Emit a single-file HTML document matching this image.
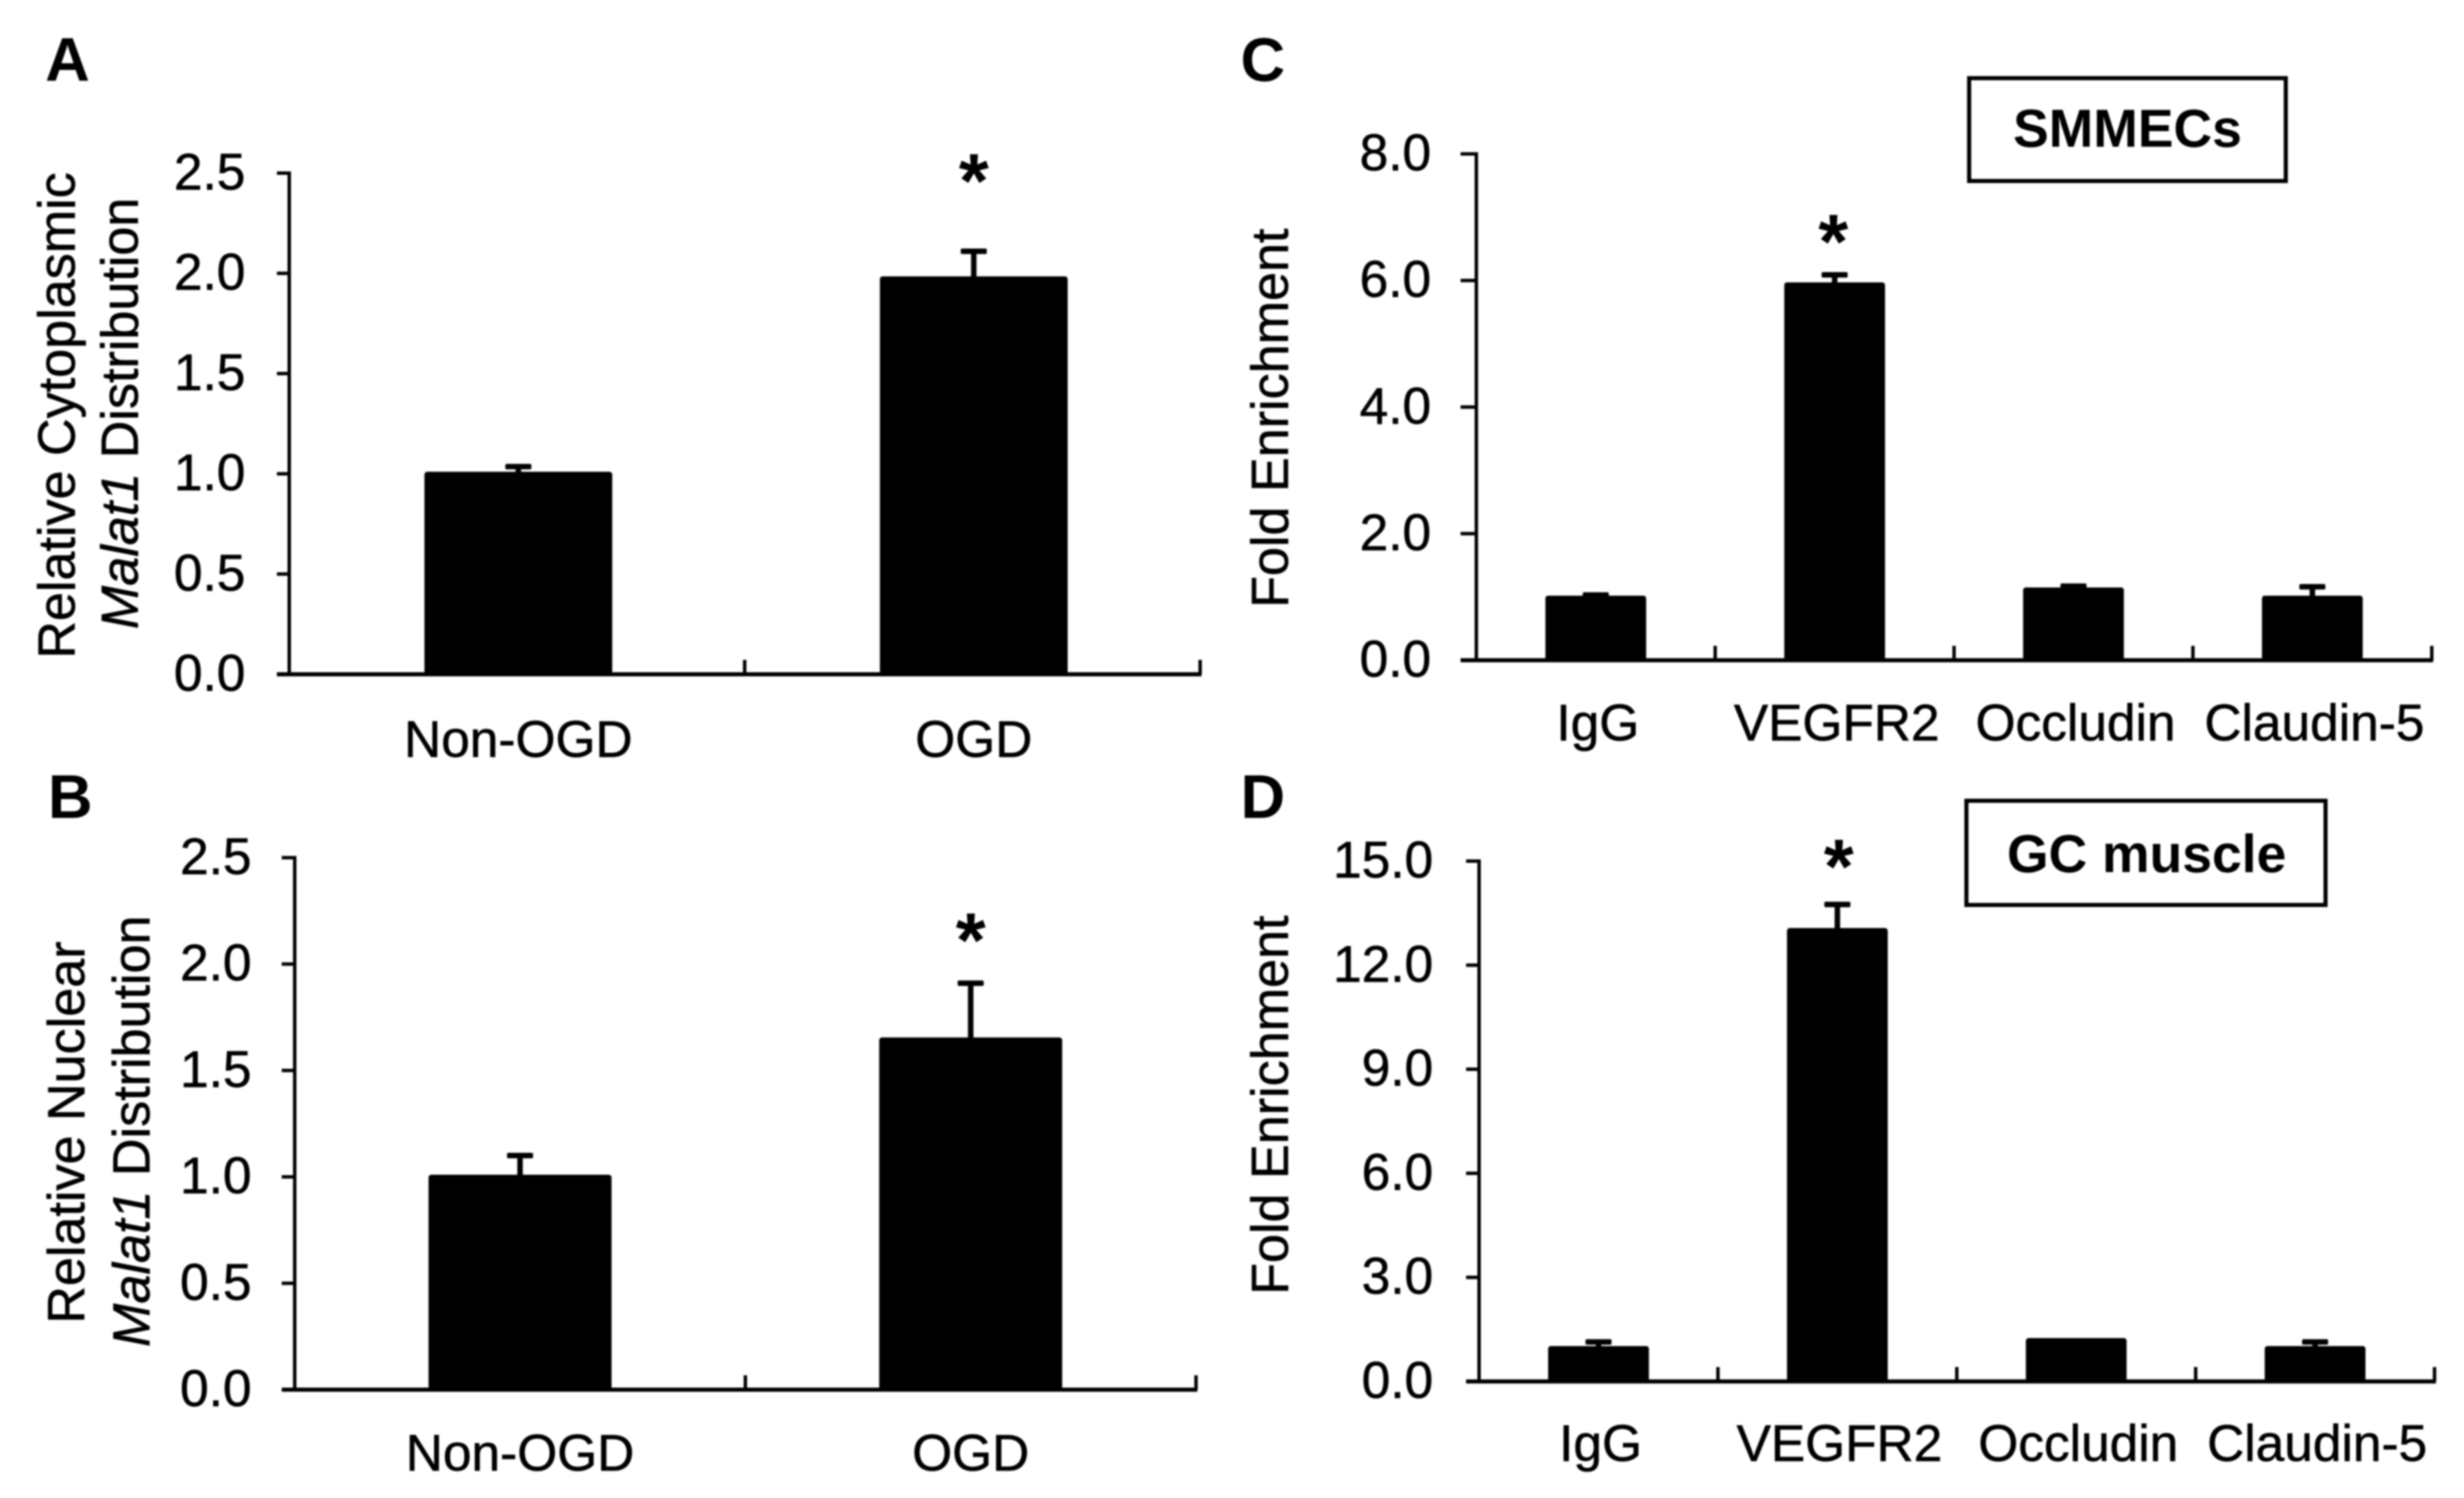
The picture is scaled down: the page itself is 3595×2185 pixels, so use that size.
<!DOCTYPE html>
<html lang="en">
<head>
<meta charset="utf-8">
<title>Malat1 distribution and fold enrichment charts</title>
<style>
  html, body { margin: 0; padding: 0; background: #fff; }
  svg { display: block; filter: blur(1.2px); }
  text { font-family: "Liberation Sans", Arial, sans-serif; fill: #000; }
  .tick, .cat { font-size: 75px; stroke: #000; stroke-width: 0.8px; }
  .ytitle { font-size: 76px; stroke: #000; stroke-width: 0.8px; }
  .letter { font-size: 90px; font-weight: bold; }
  .boxlabel { font-size: 78px; font-weight: bold; }
  .star { font-size: 112px; font-weight: bold; }
</style>
</head>
<body>
<svg id="figure" xmlns="http://www.w3.org/2000/svg" width="3595" height="2185" viewBox="0 0 3595 2185">
  <rect x="0" y="0" width="3595" height="2185" fill="#fff"/>

  <text class="letter" x="66" y="118">A</text>
  <text class="letter" x="70" y="1193">B</text>
  <text class="letter" x="1810" y="118">C</text>
  <text class="letter" x="1810" y="1193">D</text>

  <text class="ytitle" text-anchor="middle" transform="translate(109,606) rotate(-90)">Relative Cytoplasmic</text>
  <text class="ytitle" text-anchor="middle" transform="translate(201,603) rotate(-90)"><tspan font-style="italic">Malat1</tspan> Distribution</text>
  <text class="ytitle" text-anchor="middle" transform="translate(123,1652) rotate(-90)">Relative Nuclear</text>
  <text class="ytitle" text-anchor="middle" transform="translate(218,1650) rotate(-90)"><tspan font-style="italic">Malat1</tspan> Distribution</text>
  <text class="ytitle" text-anchor="middle" transform="translate(1879,610) rotate(-90)">Fold Enrichment</text>
  <text class="ytitle" text-anchor="middle" transform="translate(1879,1612) rotate(-90)">Fold Enrichment</text>

  <g>
    <rect x="2873" y="114" width="462" height="150" fill="#fff" stroke="#000" stroke-width="6"/>
    <text class="boxlabel" text-anchor="middle" x="3104" y="214">SMMECs</text>
  </g>
  <g>
    <rect x="2869" y="1168" width="524" height="152" fill="#fff" stroke="#000" stroke-width="6"/>
    <text class="boxlabel" text-anchor="middle" x="3132" y="1272">GC muscle</text>
  </g>
</svg>

<script>
const panelACategories = ['Non-OGD', 'OGD'];
const panelAValues = [1.01, 1.985];
const panelAErrors = [0.026, 0.125];
const panelASignificant = [false, true];
const panelATicks = ['0.0', '0.5', '1.0', '1.5', '2.0', '2.5'];

const panelBCategories = ['Non-OGD', 'OGD'];
const panelBValues = [1.01, 1.655];
const panelBErrors = [0.09, 0.255];
const panelBSignificant = [false, true];
const panelBTicks = ['0.0', '0.5', '1.0', '1.5', '2.0', '2.5'];

const panelCCategories = ['IgG', 'VEGFR2', 'Occludin', 'Claudin-5'];
const panelCValues = [1.02, 5.97, 1.15, 1.02];
const panelCErrors = [0.01, 0.12, 0.02, 0.14];
const panelCSignificant = [false, true, false, false];
const panelCTicks = ['0.0', '2.0', '4.0', '6.0', '8.0'];

const panelDCategories = ['IgG', 'VEGFR2', 'Occludin', 'Claudin-5'];
const panelDValues = [1.02, 13.07, 1.25, 1.02];
const panelDErrors = [0.12, 0.68, 0, 0.12];
const panelDSignificant = [false, true, false, false];
const panelDTicks = ['0.0', '3.0', '6.0', '9.0', '12.0', '15.0'];

const SVG_NS = 'http://www.w3.org/2000/svg';
const figure = document.getElementById('figure');

function shape(tag, parent, props) {
  const node = document.createElementNS(SVG_NS, tag);
  Object.keys(props).forEach(function (k) { node.setAttribute(k, props[k]); });
  parent.appendChild(node);
  return node;
}

function drawPanel(id, categories, values, errors, significant, ticks, frame) {
  const tickValues = ticks.map(parseFloat);
  const yMax = tickValues[tickValues.length - 1];
  const yScale = function (v) { return frame.y0 - (v / yMax) * (frame.y0 - frame.yTop); };
  const band = (frame.xEnd - frame.x0) / categories.length;
  const xCenter = function (i) { return frame.x0 + band * (i + 0.5) + frame.barShift; };

  const group = shape('g', figure, {});
  
  

  categories.forEach(function (cat, i) {
    const cx = xCenter(i);
    const top = yScale(values[i]);
    if (errors[i] > 0) {
      const errTop = yScale(values[i] + errors[i]);
      const stem = shape('rect', group, { x: cx - 4, y: errTop, width: 8, height: top - errTop + 2, fill: '#000' });
      
      
      const cap = shape('rect', group, { x: cx - 19, y: errTop - 4, width: 38, height: 8, rx: 2, fill: '#000' });
      
      
    }
    const bar = shape('rect', group, { x: cx - frame.barWidth / 2, y: top, width: frame.barWidth, height: frame.y0 - top, rx: 4, fill: '#000' });
    
    

    if (significant[i]) {
      const anchorY = yScale(values[i] + errors[i]) - 4;
      const star = shape('text', group, { class: 'star', 'text-anchor': 'middle', x: cx + frame.starShift, y: anchorY - frame.starGap + 44 });
      star.textContent = '*';
      
      
    }

    const label = shape('text', group, { class: 'cat', 'text-anchor': 'middle', x: cx + frame.catShift, y: frame.catBaseline });
    label.textContent = cat;
    
    
  });

  const yAxis = shape('rect', group, { x: frame.x0 - 2.5, y: frame.yTop - 2.5, width: 5, height: frame.y0 - frame.yTop + 5, fill: '#000' });
  
  
  const xAxis = shape('rect', group, { x: frame.x0 - frame.tickLen, y: frame.y0 - 3, width: frame.xEnd - frame.x0 + frame.tickLen + 2, height: 6, fill: '#000' });
  
  

  ticks.forEach(function (t, i) {
    const y = yScale(tickValues[i]);
    const mark = shape('rect', group, { x: frame.x0 - frame.tickLen, y: y - 2.5, width: frame.tickLen, height: 5, fill: '#000' });
    
    
    const txt = shape('text', group, { class: 'tick', 'text-anchor': 'end', x: frame.labelRight, y: y + 24 });
    txt.textContent = t;
    
    
  });

  categories.forEach(function (cat, i) {
    const x = frame.x0 + band * (i + 1);
    const mark = shape('rect', group, { x: x - 2.5, y: frame.y0 - 21, width: 5, height: 21, fill: '#000' });
    
    
  });
}

drawPanel('a', panelACategories, panelAValues, panelAErrors, panelASignificant, panelATicks,
  { x0: 422, xEnd: 1751, yTop: 252.5, y0: 983.5, barWidth: 274, barShift: 2, catShift: 0, catBaseline: 1104, labelRight: 358, tickLen: 18, starGap: 104, starShift: 0 });
drawPanel('b', panelBCategories, panelBValues, panelBErrors, panelBSignificant, panelBTicks,
  { x0: 430, xEnd: 1745, yTop: 1251, y0: 2027, barWidth: 267, barShift: 0, catShift: 0, catBaseline: 2145, labelRight: 367, tickLen: 19, starGap: 64, starShift: 0 });
drawPanel('c', panelCCategories, panelCValues, panelCErrors, panelCSignificant, panelCTicks,
  { x0: 2154, xEnd: 3548, yTop: 224.5, y0: 963, barWidth: 147, barShift: 0, catShift: 3, catBaseline: 1080, labelRight: 2088, tickLen: 23, starGap: 50, starShift: -2 });
drawPanel('d', panelDCategories, panelDValues, panelDErrors, panelDSignificant, panelDTicks,
  { x0: 2158, xEnd: 3552, yTop: 1256, y0: 2015, barWidth: 147, barShift: 0, catShift: 3, catBaseline: 2131, labelRight: 2091, tickLen: 19, starGap: 57, starShift: 2 });
</script>
</body>
</html>
